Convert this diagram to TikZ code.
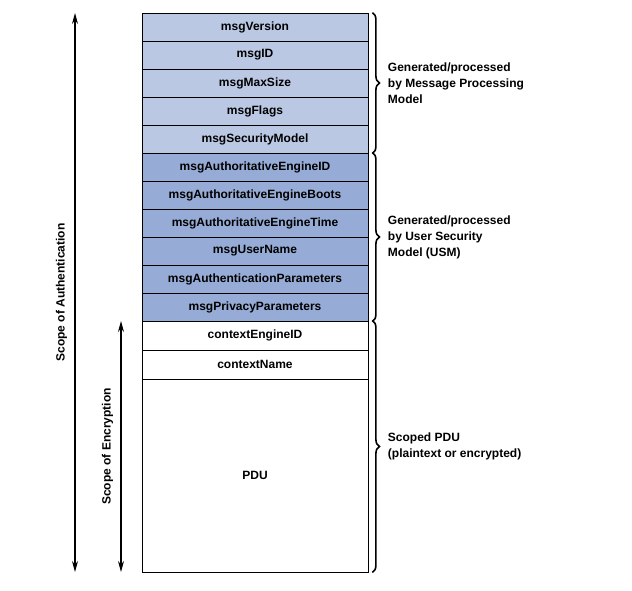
\documentclass[tikz,border=0pt]{standalone}
\usepackage{fontspec}
\setmainfont{Liberation Sans}
\usetikzlibrary{decorations.pathreplacing,arrows.meta}
\definecolor{hdrblue}{RGB}{186,200,228}
\definecolor{usmblue}{RGB}{150,172,214}
\tikzset{
  field/.style={draw=black,thick,minimum width=226pt,minimum height=28pt,inner sep=0pt,font=\bfseries\fontsize{12}{14}\selectfont},
  brc/.style={decorate,decoration={brace,amplitude=7pt},line width=1.6pt},
  lbl/.style={anchor=west,align=left,font=\bfseries\fontsize{12}{16}\selectfont},
  scope/.style={{Stealth[length=11pt,width=6pt]}-{Stealth[length=11pt,width=6pt]},line width=1.2pt}
}
\begin{document}
\begin{tikzpicture}[x=1pt,y=-1pt]
\useasboundingbox (0,0) rectangle (632,590);
\foreach \name [count=\i] in {msgVersion,msgID,msgMaxSize,msgFlags,msgSecurityModel}{
  \node[field,fill=hdrblue] (r\i) at (255,{27+28*(\i-1)}) {\name};
}
\foreach \name [count=\i from 6] in {msgAuthoritativeEngineID,msgAuthoritativeEngineBoots,msgAuthoritativeEngineTime,msgUserName,msgAuthenticationParameters,msgPrivacyParameters}{
  \node[field,fill=usmblue] (r\i) at (255,{27+28*(\i-1)}) {\name};
}
\node[field,minimum height=29pt] (r12) at (255,335.5) {contextEngineID};
\node[field,minimum height=29pt] (r13) at (255,364.5) {contextName};
\node[field,minimum height=193pt,text depth=0pt] (pdu) at (255,475.5) {PDU};

\draw[brc] ([xshift=4pt]r1.north east) -- coordinate[xshift=12pt] (b1) ([xshift=4pt]r5.south east);
\draw[brc] ([xshift=4pt]r6.north east) -- coordinate[xshift=12pt] (b2) ([xshift=4pt]r11.south east);
\draw[brc] ([xshift=4pt]r12.north east) -- coordinate[xshift=12pt] (b3) ([xshift=4pt]pdu.south east);
\node[lbl] (l1) at (b1) {Generated/processed\\by Message Processing\\Model};
\node[lbl] (l2) at (b2) {Generated/processed\\by User Security\\Model (USM)};
\node[lbl] (l3) at (b3) {Scoped PDU\\(plaintext or encrypted)};

\coordinate (a1) at (75,13);
\coordinate (a2) at (75,572);
\draw[scope] (a1) -- node[rotate=90,above=4pt,font=\bfseries\fontsize{12}{14}\selectfont] {Scope of Authentication} (a2);
\coordinate (e1) at (121,321);
\coordinate (e2) at (121,572);
\draw[scope] (e1) -- node[rotate=90,above=4pt,font=\bfseries\fontsize{12}{14}\selectfont] {Scope of Encryption} (e2);
\end{tikzpicture}
\end{document}
